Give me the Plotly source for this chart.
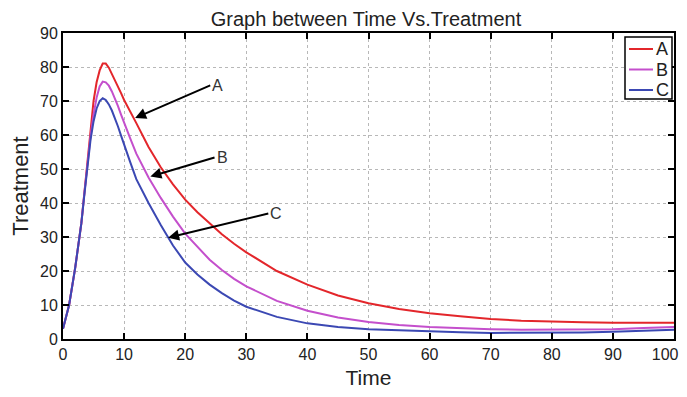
import plotly.graph_objects as go

time = [0, 1, 2, 3, 3.5, 4, 4.5, 5, 5.5, 6, 6.5, 7, 7.5, 8, 8.5, 9, 9.5, 10, 11, 12, 14, 16, 18, 20,
        22, 24, 26, 28, 30, 35, 40, 45, 50, 55, 60, 65, 70, 75, 80, 85, 90, 95, 100]
series_a = [3, 10, 21, 34, 43, 52, 61, 70, 75.5, 79, 81, 81, 79.8, 78, 76.3, 74.3, 72.3, 70.3, 67, 63.5,
            56.5, 50.5, 45.5, 41, 37.3, 33.9, 30.8, 28, 25.5, 20, 16, 12.8, 10.5, 8.8, 7.6, 6.7, 5.9,
            5.4, 5.1, 4.9, 4.8, 4.8, 4.8]
series_b = [3, 10, 21, 34, 43, 51.5, 59.5, 66, 71, 74.3, 75.7, 75.5, 74.5, 72.8, 70.8, 68.5, 66, 63.5, 59, 54.5,
            47.5, 41.5, 36, 31, 27, 23.3, 20.3, 17.7, 15.5, 11.2, 8.3, 6.3, 5, 4.1, 3.5, 3.1, 2.9,
            2.7, 2.7, 2.8, 2.9, 3.2, 3.5]
series_c = [3, 10, 21, 34, 42.5, 51, 58.5, 64, 67.8, 70, 70.8, 70.3, 69, 67.2, 65, 62.5, 59.8, 57, 52, 47,
            40, 33.5, 27.5, 22.5, 19, 16, 13.5, 11.3, 9.5, 6.5, 4.6, 3.5, 2.9, 2.6, 2.2, 2.0, 1.8,
            1.8, 1.8, 1.9, 2.1, 2.4, 2.7]
names = ["A", "B", "C"]
colors = ["#e3262b", "#c44fcc", "#3b48b3"]

# x tick labels (last one padded so it is not clipped at the page edge)
x_tick_vals = [0, 10, 20, 30, 40, 50, 60, 70, 80, 90, 100]
x_tick_text = ["0", "10", "20", "30", "40", "50", "60", "70", "80", "90", "100\u00a0\u00a0\u00a0\u00a0"]

# arrow annotations: label, text position, arrow tip (data units)
labels = ["A", "B", "C"]
label_pos = [(24.1, 74.6), (24.8, 53.4), (33.6, 36.9)]
tip_pos = [(11.8, 65.0), (14.3, 47.8), (17.2, 29.8)]

FONT = "Liberation Sans, Arial"
OFF = 8  # page body margin (top/left and bottom)
W, H = 687 - OFF, 397 - 2 * OFF
L, R, T, B = 63 - OFF, 13, 33 - OFF, 58 - OFF
PW, PH = W - L - R, H - T - B


def px_x(p):
    return (p - OFF - L) / PW


def px_y(p):
    return (H - B - (p - OFF)) / PH


fig = go.Figure()
for nm, ys, col in zip(names, [series_a, series_b, series_c], colors):
    fig.add_trace(go.Scatter(x=time, y=ys, mode="lines", name=nm, showlegend=False,
                             line=dict(color=col, width=2)))

for lab, (tx, ty), (qx, qy) in zip(labels, label_pos, tip_pos):
    fig.add_annotation(x=qx, y=qy, ax=tx, ay=ty, axref="x", ayref="y", xref="x", yref="y",
                       text=lab, showarrow=True, arrowhead=2, arrowsize=1.1, arrowwidth=2,
                       arrowcolor="black", font=dict(family=FONT, size=16, color="#333"),
                       xanchor="left")

# legend box drawn manually (MATLAB style)
fig.add_shape(type="rect", xref="paper", yref="paper",
              x0=px_x(625), x1=px_x(672), y0=px_y(99), y1=px_y(37),
              line=dict(color="black", width=1.5), fillcolor="white", layer="above")
for i, (nm, col) in enumerate(zip(names, colors)):
    yy = px_y(49 + i * 20.5)
    fig.add_shape(type="line", xref="paper", yref="paper",
                  x0=px_x(629), x1=px_x(653), y0=yy, y1=yy,
                  line=dict(color=col, width=2), layer="above")
    fig.add_annotation(xref="paper", yref="paper", x=px_x(654), y=yy, text=nm, showarrow=False,
                       xanchor="left", yanchor="middle", font=dict(family=FONT, size=18, color="#222"))

axis_common = dict(showline=True, linecolor="black", linewidth=2, mirror="ticks",
                   ticks="inside", ticklen=6, tickcolor="black", tickwidth=1.5,
                   showgrid=True, gridcolor="#b8b8b8", griddash="dot", gridwidth=1,
                   zeroline=False, automargin=False, ticklabeloverflow="allow",
                   tickfont=dict(family=FONT, size=16, color="#222"))

fig.update_layout(
    width=W, height=H,
    margin=dict(l=L, r=R, t=T, b=B),
    paper_bgcolor="white", plot_bgcolor="white",
    title=dict(text="Graph between Time Vs.Treatment", x=(366 - OFF) / W, xanchor="center",
               y=1 - (19 - OFF) / H, yanchor="middle",
               font=dict(family=FONT, size=20, color="#222")),
    xaxis=dict(range=[0, 100], tickmode="array", tickvals=x_tick_vals, ticktext=x_tick_text,
               title=dict(text="Time", standoff=8,
               font=dict(family=FONT, size=21, color="#222")), **axis_common),
    yaxis=dict(range=[0, 90], dtick=10, title=dict(text="Treatment", standoff=24,
               font=dict(family=FONT, size=22, color="#222")), **axis_common),
    showlegend=False,
)

fig.write_html("out.html")
